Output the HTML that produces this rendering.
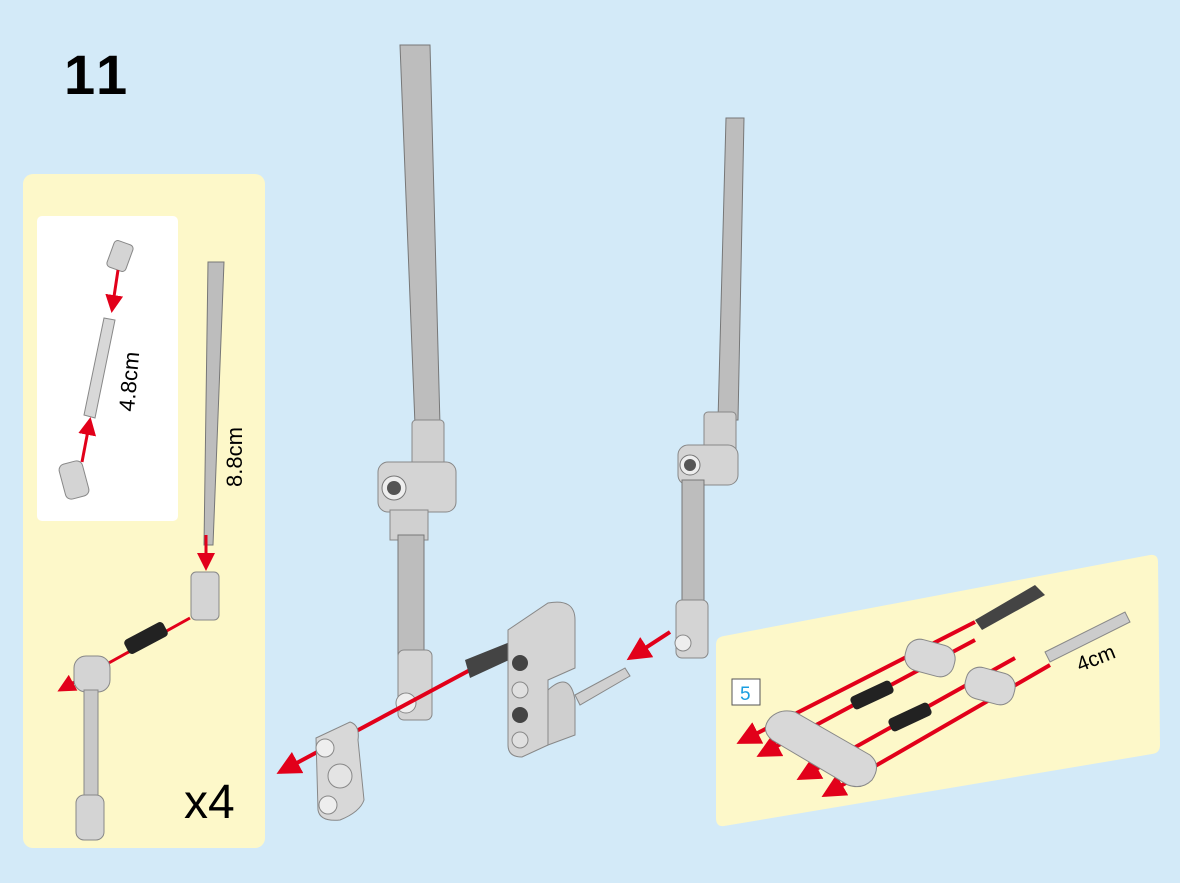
<!DOCTYPE html>
<html><head><meta charset="utf-8"><style>
html,body{margin:0;padding:0;background:#d3eaf8;}
svg{display:block}
text{font-family:"Liberation Sans",sans-serif}
</style></head><body>
<svg width="1180" height="883" viewBox="0 0 1180 883" xmlns="http://www.w3.org/2000/svg">
<defs>
<marker id="ah" markerWidth="6" markerHeight="6" refX="5" refY="3" orient="auto" markerUnits="strokeWidth"><path d="M0,0 L6,3 L0,6 Z" fill="#e2001a"/></marker>
</defs>
<rect width="1180" height="883" fill="#d3eaf8"/>
<text x="64" y="94" font-size="56" font-weight="bold" letter-spacing="4" fill="#000">11</text>

<!-- left panel -->
<rect x="23" y="174" width="242" height="674" rx="10" fill="#fdf8c9"/>
<rect x="37" y="216" width="141" height="305" rx="5" fill="#fff"/>
<rect x="110" y="242" width="20" height="28" rx="4" fill="#d4d4d4" stroke="#888" transform="rotate(20 120 256)"/>
<line x1="118" y1="270" x2="112" y2="310" stroke="#e2001a" stroke-width="3" marker-end="url(#ah)"/>
<polygon points="104,318 115,320 95,418 84,415" fill="#d8d8d8" stroke="#888"/>
<line x1="82" y1="462" x2="90" y2="420" stroke="#e2001a" stroke-width="3" marker-end="url(#ah)"/>
<rect x="62" y="462" width="24" height="36" rx="6" fill="#d4d4d4" stroke="#888" transform="rotate(-15 74 480)"/>
<text x="0" y="0" font-size="22" transform="translate(134 412) rotate(-85)">4.8cm</text>
<polygon points="208,262 224,262 213,545 204,545" fill="#bdbdbd" stroke="#777"/>
<text x="0" y="0" font-size="22" transform="translate(242 487) rotate(-90)">8.8cm</text>
<line x1="206" y1="535" x2="206" y2="568" stroke="#e2001a" stroke-width="3" marker-end="url(#ah)"/>
<rect x="191" y="572" width="28" height="48" rx="5" fill="#d4d4d4" stroke="#888"/>
<line x1="190" y1="618" x2="60" y2="690" stroke="#e2001a" stroke-width="3" marker-end="url(#ah)"/>
<rect x="124" y="630" width="44" height="16" rx="4" fill="#222" transform="rotate(-28 146 638)"/>
<rect x="74" y="656" width="36" height="36" rx="12" fill="#d4d4d4" stroke="#888"/>
<rect x="84" y="690" width="14" height="110" fill="#c8c8c8" stroke="#888"/>
<rect x="76" y="795" width="28" height="45" rx="8" fill="#d4d4d4" stroke="#888"/>
<text x="184" y="818" font-size="48">x4</text>

<!-- main axle 1 -->
<polygon points="400,45 430,45 440,425 415,425" fill="#bdbdbd" stroke="#777"/>
<rect x="412" y="420" width="32" height="60" rx="4" fill="#d0d0d0" stroke="#888"/>
<rect x="378" y="462" width="78" height="50" rx="10" fill="#d4d4d4" stroke="#888"/>
<circle cx="394" cy="488" r="12" fill="#eee" stroke="#777"/><circle cx="394" cy="488" r="7" fill="#555"/>
<rect x="390" y="510" width="38" height="30" fill="#d0d0d0" stroke="#888"/>
<rect x="398" y="535" width="26" height="120" fill="#bdbdbd" stroke="#777"/>
<rect x="398" y="650" width="34" height="70" rx="6" fill="#d4d4d4" stroke="#888"/>
<circle cx="406" cy="703" r="10" fill="#eee" stroke="#888"/>

<!-- main axle 2 -->
<polygon points="726,118 744,118 738,420 718,420" fill="#bdbdbd" stroke="#777"/>
<rect x="704" y="412" width="32" height="50" rx="4" fill="#d0d0d0" stroke="#888"/>
<rect x="678" y="445" width="60" height="40" rx="10" fill="#d4d4d4" stroke="#888"/>
<circle cx="690" cy="465" r="10" fill="#eee" stroke="#777"/><circle cx="690" cy="465" r="6" fill="#555"/>
<rect x="682" y="480" width="22" height="125" fill="#bdbdbd" stroke="#777"/>
<rect x="676" y="600" width="32" height="58" rx="6" fill="#d4d4d4" stroke="#888"/>
<circle cx="683" cy="643" r="8" fill="#eee" stroke="#888"/>

<line x1="670" y1="632" x2="630" y2="658" stroke="#e2001a" stroke-width="4" marker-end="url(#ah)"/>
<polygon points="575,695 625,668 630,676 580,705" fill="#d0d0d0" stroke="#888"/>
<line x1="470" y1="670" x2="280" y2="772" stroke="#e2001a" stroke-width="4" marker-end="url(#ah)"/>
<polygon points="465,660 515,640 520,655 470,678" fill="#444"/>
<path d="M508,630 L548,603 Q575,598 575,620 L575,668 L548,680 L548,745 L522,757 Q508,757 508,745 Z" fill="#d4d4d4" stroke="#888"/>
<path d="M548,690 Q570,670 575,700 L575,735 L548,745 Z" fill="#cfcfcf" stroke="#888"/>
<circle cx="520" cy="663" r="8" fill="#444"/><circle cx="520" cy="690" r="8" fill="#e0e0e0" stroke="#888"/>
<circle cx="520" cy="715" r="8" fill="#444"/><circle cx="520" cy="740" r="8" fill="#e0e0e0" stroke="#888"/>
<path d="M316,738 L350,722 Q360,725 358,740 L364,800 Q360,812 340,820 Q320,822 318,810 Z" fill="#d8d8d8" stroke="#888"/>
<circle cx="325" cy="748" r="9" fill="#eee" stroke="#888"/><circle cx="340" cy="776" r="12" fill="#e4e4e4" stroke="#888"/><circle cx="328" cy="805" r="9" fill="#eee" stroke="#888"/>

<!-- right panel -->
<path d="M724,636 L1150,555 Q1158,554 1158,562 L1160,745 Q1160,753 1152,754 L724,826 Q716,827 716,818 L716,645 Q716,637 724,636 Z" fill="#fdf8c9"/>
<rect x="732" y="679" width="28" height="26" fill="#fff" stroke="#555"/>
<text x="740" y="700" font-size="19" fill="#1a9ee0">5</text>
<g stroke="#e2001a" stroke-width="4">
<line x1="975" y1="622" x2="740" y2="742" marker-end="url(#ah)"/>
<line x1="975" y1="640" x2="760" y2="755" marker-end="url(#ah)"/>
<line x1="1015" y1="658" x2="800" y2="778" marker-end="url(#ah)"/>
<line x1="1050" y1="665" x2="825" y2="795" marker-end="url(#ah)"/>
</g>
<polygon points="975,620 1035,585 1045,595 982,630" fill="#444"/>
<polygon points="1045,652 1125,612 1130,622 1050,662" fill="#ccc" stroke="#888"/>
<text x="0" y="0" font-size="21" transform="translate(1080 672) rotate(-22)">4cm</text>
<rect x="905" y="642" width="50" height="32" rx="14" fill="#d8d8d8" stroke="#888" transform="rotate(15 930 658)"/>
<rect x="965" y="670" width="50" height="32" rx="14" fill="#d8d8d8" stroke="#888" transform="rotate(15 990 686)"/>
<rect x="850" y="688" width="44" height="14" rx="4" fill="#222" transform="rotate(-25 872 695)"/>
<rect x="888" y="710" width="44" height="14" rx="4" fill="#222" transform="rotate(-25 910 717)"/>
<path d="M770,718 Q780,708 795,712 L870,755 Q882,765 872,780 Q862,790 848,785 L772,740 Q760,730 770,718 Z" fill="#d8d8d8" stroke="#888"/>
</svg>
</body></html>
